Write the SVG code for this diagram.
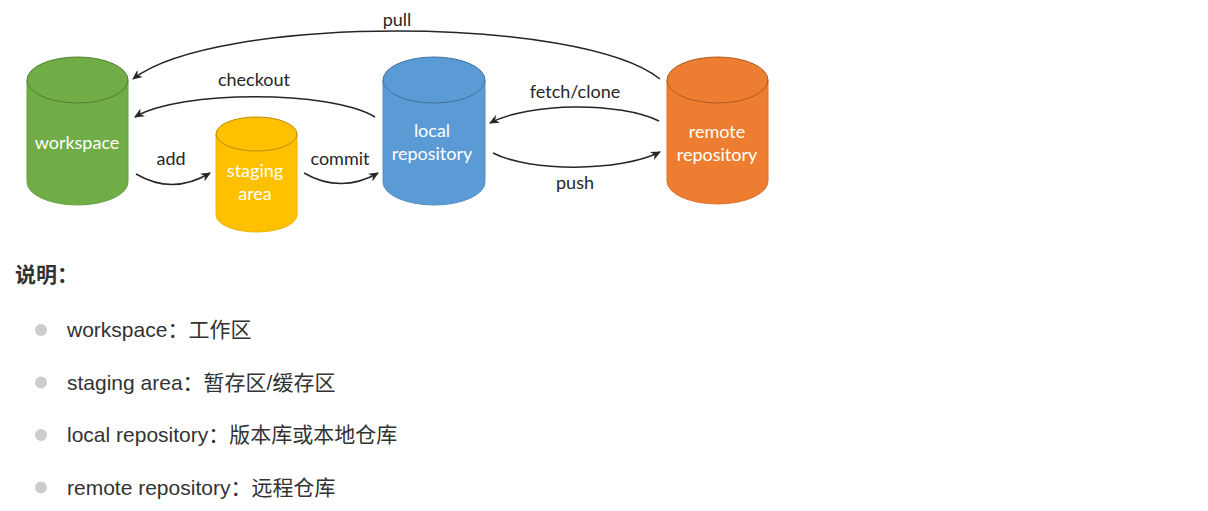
<svg xmlns="http://www.w3.org/2000/svg" width="1208" height="511" viewBox="0 0 1208 511">
<style>
  .cyl-label { font-family: Lato, "Open Sans", "Liberation Sans", sans-serif; font-size: 18px; fill: #ffffff; text-anchor: middle; }
  .edge-label { font-family: Lato, "Open Sans", "Liberation Sans", sans-serif; font-size: 18px; fill: #262626; text-anchor: middle; }
  .conn { fill: none; stroke: #262626; stroke-width: 1.5; marker-end: url(#arrow); }
  .legend { font-family: "Liberation Sans", Arial, "Noto Sans CJK SC", sans-serif; font-size: 21px; fill: #333333; }
  .title { font-family: "Liberation Sans", Arial, "Noto Sans CJK SC", sans-serif; font-size: 21px; font-weight: bold; fill: #333333; }
  .bullet { fill: #cccccc; }
</style>
<defs>
  <marker id="arrow" markerWidth="10" markerHeight="9" refX="9" refY="4.5" orient="auto" markerUnits="userSpaceOnUse">
    <path d="M0,0 L10,4.5 L0,9 L3,4.5 z" fill="#262626"/>
  </marker>
</defs>
<rect width="1208" height="511" fill="#ffffff"/>

<g id="workspace">
  <path d="M27,80 L27,182 A50.5,23 0 0 0 128,182 L128,80 Z" fill="#70AD47" stroke="#65A03F" stroke-width="1"/>
  <ellipse cx="77.5" cy="80" rx="50.5" ry="23" fill="#70AD47" stroke="#507E32" stroke-width="1"/>
  <text class="cyl-label" x="77" y="149">workspace</text>
</g>

<g id="staging">
  <path d="M216,134 L216,215 A40.5,17 0 0 0 297,215 L297,134 Z" fill="#FFC000" stroke="#F0B400" stroke-width="1"/>
  <ellipse cx="256.5" cy="134" rx="40.5" ry="17" fill="#FFC000" stroke="#BC8C00" stroke-width="1"/>
  <text class="cyl-label" x="255" y="177">staging</text>
  <text class="cyl-label" x="255" y="200">area</text>
</g>

<g id="local">
  <path d="M383,80 L383,182 A51,23 0 0 0 485,182 L485,80 Z" fill="#5B9BD5" stroke="#528FC6" stroke-width="1"/>
  <ellipse cx="434" cy="80" rx="51" ry="23" fill="#5B9BD5" stroke="#41719C" stroke-width="1"/>
  <text class="cyl-label" x="432" y="137">local</text>
  <text class="cyl-label" x="432" y="160">repository</text>
</g>

<g id="remote">
  <path d="M667,80 L667,181 A50.5,23 0 0 0 768,181 L768,80 Z" fill="#ED7D31" stroke="#DD722B" stroke-width="1"/>
  <ellipse cx="717.5" cy="80" rx="50.5" ry="23" fill="#ED7D31" stroke="#AE5A21" stroke-width="1"/>
  <text class="cyl-label" x="717" y="138">remote</text>
  <text class="cyl-label" x="717" y="161">repository</text>
</g>

<g id="connectors">
  <path class="conn" d="M660,79 C580,15 215,15 133,79"/>
  <path class="conn" d="M375,117 C330,90 180,90 135,117"/>
  <path class="conn" d="M136,174 C160,188 185,188 210,173"/>
  <path class="conn" d="M304,173 C328,187 354,187 378,173"/>
  <path class="conn" d="M659,121 C620,102 530,102 490,123"/>
  <path class="conn" d="M493,153 C530,172 620,172 660,152"/>
  <text class="edge-label" x="397" y="26">pull</text>
  <text class="edge-label" x="254" y="86">checkout</text>
  <text class="edge-label" x="171" y="165">add</text>
  <text class="edge-label" x="340" y="165">commit</text>
  <text class="edge-label" x="575" y="98">fetch/clone</text>
  <text class="edge-label" x="575" y="189">push</text>
</g>

<g id="legend">
  <text class="title" x="15" y="282">说明：</text>
  <circle class="bullet" cx="41" cy="330" r="6"/>
  <text class="legend" x="67" y="337">workspace：工作区</text>
  <circle class="bullet" cx="41" cy="382.5" r="6"/>
  <text class="legend" x="67" y="389.5">staging area：暂存区/缓存区</text>
  <circle class="bullet" cx="41" cy="435" r="6"/>
  <text class="legend" x="67" y="442">local repository：版本库或本地仓库</text>
  <circle class="bullet" cx="41" cy="487.5" r="6"/>
  <text class="legend" x="67" y="494.5">remote repository：远程仓库</text>
</g>
</svg>
